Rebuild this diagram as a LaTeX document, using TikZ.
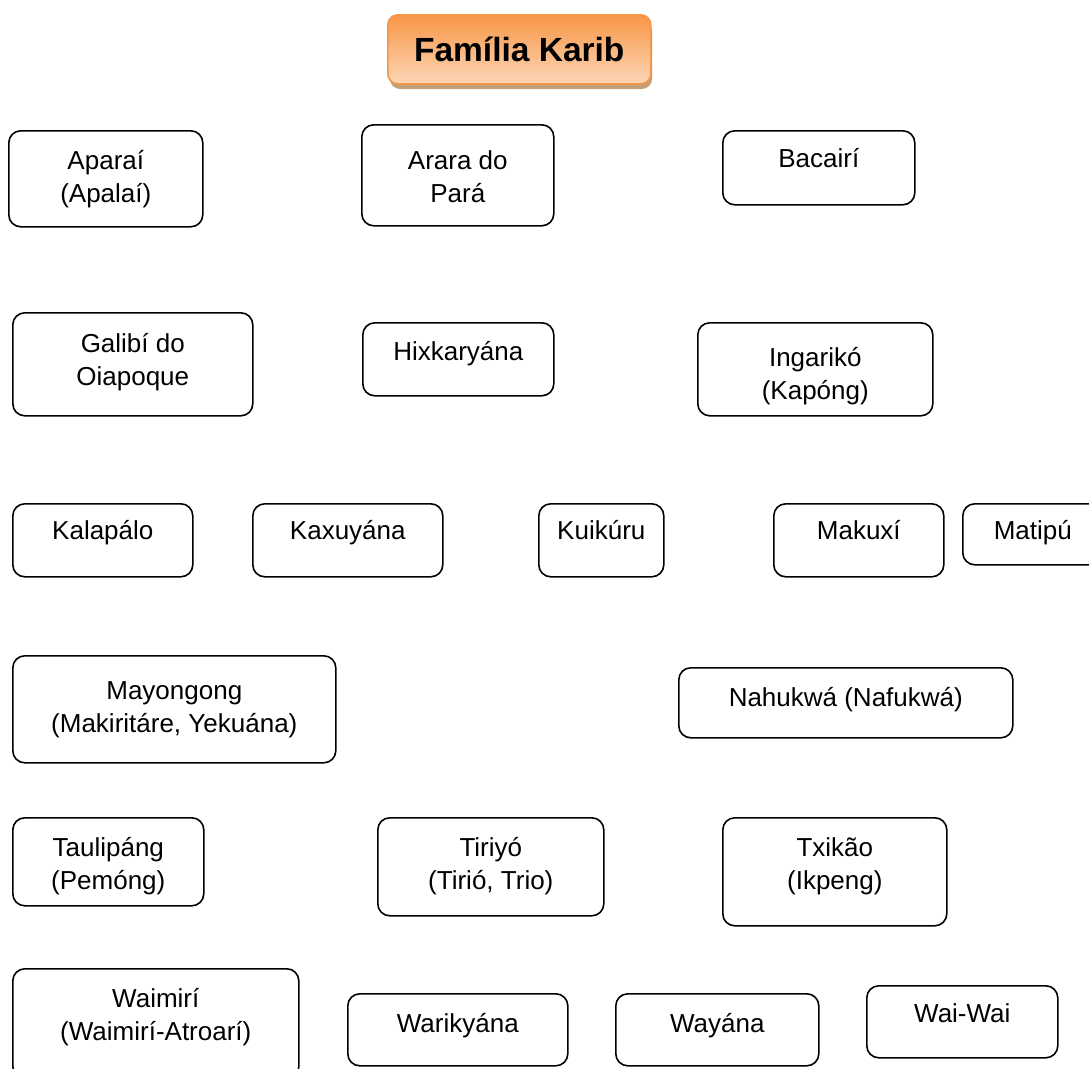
\documentclass[tikz,border=0pt]{standalone}
\usepackage{fontspec}
\setmainfont{Liberation Sans}
\usetikzlibrary{calc,shadows}
\definecolor{karibtop}{RGB}{247,150,70}
\definecolor{karibbot}{RGB}{252,214,182}
\definecolor{karibshadow}{RGB}{196,160,120}
\newcommand\langfont{\fontsize{26}{33}\selectfont}
\newcommand\langbox[7]{%
  \node[langnode, minimum width=#4pt, minimum height=#5pt] (#1) at (#2,#3) {};
  \node[langtext] (#1t) at ($(#1.north)+(0,#6-#3)$) {\begin{tabular}[t]{@{}c@{}}#7\end{tabular}};}
\begin{document}
\begin{tikzpicture}[x=1pt,y=-1pt,
  langnode/.style={draw=black, line width=1.6pt, rounded corners=12pt, anchor=north west, inner sep=0pt},
  langtext/.style={anchor=base, inner sep=0pt, font=\langfont},
  titlenode/.style={draw=karibtop, line width=1.6pt, rounded corners=10pt, top color=karibtop, bottom color=karibbot, inner sep=0pt, anchor=north west, font=\fontsize{33.5}{38}\selectfont\bfseries}]
\useasboundingbox (0,0) rectangle (1089,1068);
\fill[karibshadow, rounded corners=10pt] (390,21) rectangle (652,89);
\node[titlenode, minimum width=263pt, minimum height=69pt] (title) at (387,14) {Família Karib};
\langbox{aparai}{8}{130}{194}{96}{169}{Aparaí\\(Apalaí)}
\langbox{arara}{361}{124}{192}{101}{169}{Arara do\\Pará}
\langbox{bacairi}{722}{130}{192}{74}{167}{Bacairí}
\langbox{galibi}{12}{312}{240}{103}{352}{Galibí do\\Oiapoque}
\langbox{hixkaryana}{362}{322}{191}{73}{360}{Hixkaryána}
\langbox{ingariko}{697}{322}{235}{93}{366}{Ingarikó\\(Kapóng)}
\langbox{kalapalo}{12}{503}{180}{73}{539}{Kalapálo}
\langbox{kaxuyana}{252}{503}{190}{73}{539}{Kaxuyána}
\langbox{kuikuru}{538}{503}{125}{73}{539}{Kuikúru}
\langbox{makuxi}{773}{503}{170}{73}{539}{Makuxí}
\langbox{matipu}{962}{503}{140}{61}{539}{Matipú}
\langbox{mayongong}{12}{655}{323}{107}{699}{Mayongong\\(Makiritáre, Yekuána)}
\langbox{nahukwa}{678}{667}{334}{70}{706}{Nahukwá (Nafukwá)}
\langbox{taulipang}{12}{817}{191}{88}{856}{Taulipáng\\(Pemóng)}
\langbox{tiriyo}{377}{817}{226}{98}{856}{Tiriyó\\(Tirió, Trio)}
\langbox{txikao}{722}{817}{224}{108}{856}{Txikão\\(Ikpeng)}
\langbox{waimiri}{12}{968}{286}{110}{1007}{Waimirí\\(Waimirí-Atroarí)}
\langbox{warikyana}{347}{993}{220}{72}{1032}{Warikyána}
\langbox{wayana}{615}{993}{203}{72}{1032}{Wayána}
\langbox{waiwai}{866}{985}{191}{72}{1022}{Wai-Wai}
\end{tikzpicture}
\end{document}
